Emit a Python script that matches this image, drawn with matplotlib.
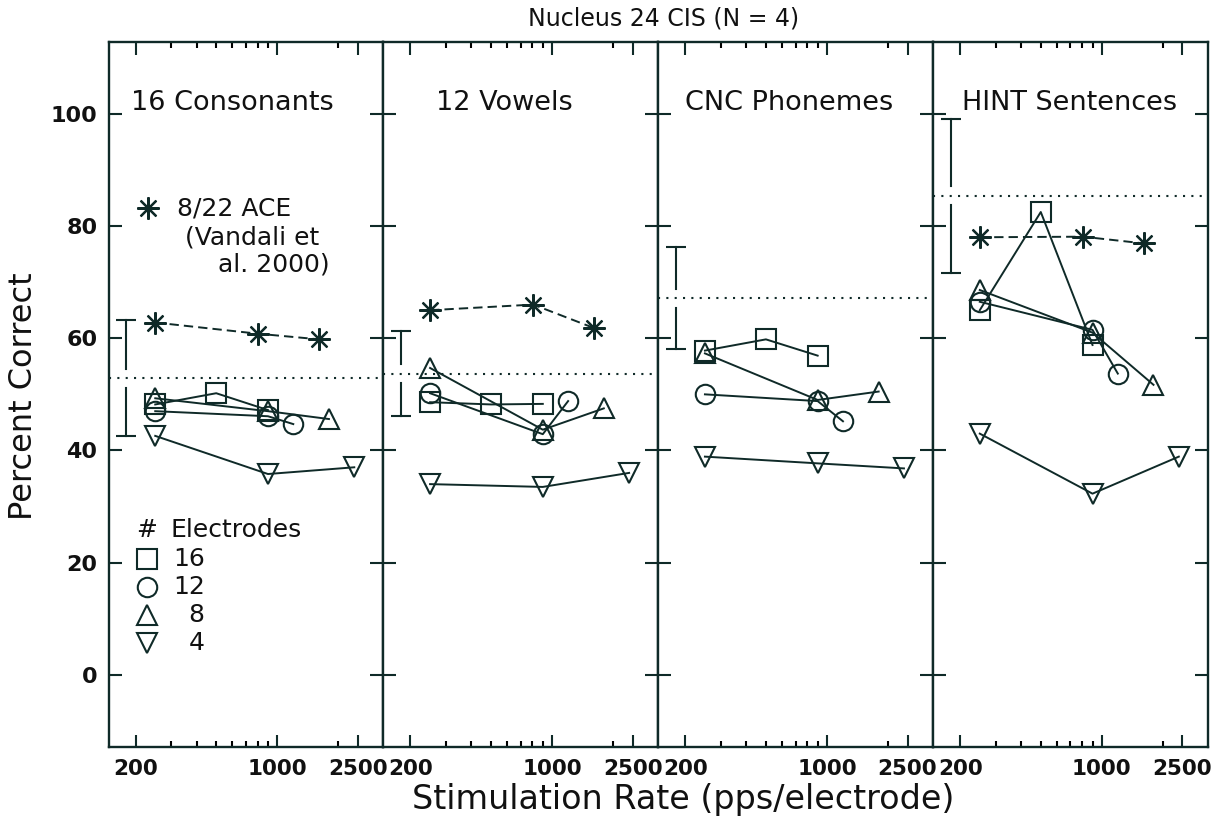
import matplotlib.pyplot as plt
import numpy as np

# stimulation rates (pps/electrode) for each condition
ace_rates = [250, 807, 1615]
rates_16 = [250, 500, 900]
rates_12 = [250, 900, 1200]
rates_8 = [250, 900, 1800]
rates_4 = [250, 900, 2400]

panel_titles = ['16 Consonants', '12 Vowels', 'CNC Phonemes', 'HINT Sentences']

# percent correct per panel
ace = [[62.8, 60.8, 59.8], [65.0, 66.0, 61.8], None, [78.0, 78.1, 76.9]]
e16 = [[48.2, 50.2, 47.2], [48.6, 48.2, 48.3], [57.8, 59.8, 56.9], [65.0, 82.5, 58.8]]
e12 = [[47.0, 46.1, 44.7], [50.2, 42.9, 48.8], [50.0, 48.8, 45.2], [66.5, 61.5, 53.7]]
e8 = [[49.3, 47.0, 45.6], [54.7, 43.7, 47.5], [57.3, 49.0, 50.5], [68.6, 61.0, 51.7]]
e4 = [[42.6, 35.8, 37.0], [34.0, 33.5, 36.0], [38.9, 37.7, 36.8], [43.0, 32.3, 38.9]]

# dotted reference line with +/- 1 sd bar
norm_mean = [52.9, 53.7, 67.1, 85.4]
norm_sd = [10.4, 7.6, 9.1, 13.7]
norm_rate = 180

ink = '#0f2a28'
ms = 14
gap = 1.7  # gap in the sd bar around the dotted line
title_x = [0.45, 0.44, 0.475, 0.495]

fig = plt.figure(figsize=(12.13, 8.34), dpi=100)
W, H = 1213.0, 834.0
left0, pw = 108.5, 274.85
bot, top = 746.7, 42.0

axes = []
for i in range(4):
    ax = fig.add_axes([(left0 + i * pw) / W, (H - bot) / H, pw / W, (bot - top) / H])
    axes.append(ax)
    ax.set_xscale('log')
    ax.set_xlim(147, 3340)
    ax.set_ylim(-12.8, 112.8)

    # norm line and sd bar
    m, s = norm_mean[i], norm_sd[i]
    ax.axhline(m, color=ink, lw=1.5, linestyle=(0, (1, 3)))
    ax.plot([norm_rate, norm_rate], [m + gap, m + s], color=ink, lw=1.5)
    ax.plot([norm_rate, norm_rate], [m - gap, m - s], color=ink, lw=1.5)
    ax.plot([norm_rate, norm_rate], [m + s, m - s], linestyle='none', marker='_',
            markersize=14, mew=1.5, color=ink)

    kw = dict(color=ink, lw=1.4, mfc='none', mec=ink, mew=1.5, markersize=ms)
    ax.plot(rates_16, e16[i], marker='s', **kw)
    ax.plot(rates_12, e12[i], marker='o', **kw)
    ax.plot(rates_8, e8[i], marker='^', **kw)
    ax.plot(rates_4, e4[i], marker='v', **kw)
    if ace[i] is not None:
        ax.plot(ace_rates, ace[i], color=ink, lw=1.4, linestyle=(0, (4.8, 2.6)),
                marker=(8, 2, 0), markersize=16, mew=1.6, mec=ink)

    ax.text(title_x[i], 0.913, panel_titles[i], transform=ax.transAxes,
            ha='center', va='center', fontsize=19.5, color='#111')

    ax.set_xticks([200, 1000, 2500])
    ax.set_xticks([300, 400, 500, 600, 700, 800, 900, 2000], minor=True)
    ax.set_xticklabels(['200', '1000', '2500'])
    ax.xaxis.set_minor_formatter(plt.NullFormatter())
    ax.set_yticks([0, 20, 40, 60, 80, 100])
    ax.tick_params(axis='x', which='major', direction='in', length=9, width=1.5,
                   top=True, bottom=True, pad=9, labelsize=15.5, colors=ink)
    ax.tick_params(axis='x', which='minor', direction='in', length=4, width=1.5,
                   top=True, bottom=True)
    ax.tick_params(axis='y', which='major', direction='in', length=9.5, width=1.5,
                   left=True, right=True, pad=8, labelsize=16, colors=ink)
    ax.tick_params(axis='y', which='minor', left=False, right=False)
    for lab in ax.get_xticklabels() + ax.get_yticklabels():
        lab.set_fontweight('bold')
        lab.set_color('#111')
    for sp in ax.spines.values():
        sp.set_linewidth(1.7)
        sp.set_color(ink)
    if i > 0:
        ax.set_yticklabels([])

# legend text in the first panel
ax = axes[0]
ax.plot([0.145], [0.764], transform=ax.transAxes, marker=(8, 2, 0), markersize=16,
        mew=1.6, color=ink, linestyle='none')
ax.text(0.248, 0.764, '8/22 ACE', transform=ax.transAxes, ha='left', va='center',
        fontsize=18, color='#111')
ax.text(0.278, 0.722, '(Vandali et', transform=ax.transAxes, ha='left', va='center',
        fontsize=18, color='#111')
ax.text(0.806, 0.684, 'al. 2000)', transform=ax.transAxes, ha='right', va='center',
        fontsize=18, color='#111')

ax.text(0.139, 0.3075, '#', transform=ax.transAxes, ha='center', va='center',
        fontsize=18, color='#111')
ax.text(0.224, 0.3075, 'Electrodes', transform=ax.transAxes, ha='left', va='center',
        fontsize=18, color='#111')
leg_markers = ['s', 'o', '^', 'v']
leg_labels = ['16', '12', '8', '4']
leg_y = [0.267, 0.227, 0.187, 0.147]
for mk, lab, yy in zip(leg_markers, leg_labels, leg_y):
    ax.plot([0.139], [yy], transform=ax.transAxes, marker=mk, markersize=ms,
            mfc='none', mec=ink, mew=1.5, linestyle='none')
    ax.text(0.35, yy, lab, transform=ax.transAxes, ha='right', va='center',
            fontsize=18, color='#111')

fig.text(0.5474, 0.978, 'Nucleus 24 CIS (N = 4)', ha='center', va='center',
         fontsize=17, color='#111')
fig.text(0.563, 0.041, 'Stimulation Rate (pps/electrode)', ha='center', va='center',
         fontsize=24, color='#111')
fig.text(0.019, 0.525, 'Percent Correct', rotation=90, ha='center', va='center',
         fontsize=23, color='#111')

fig.savefig('out.png', dpi=100)
